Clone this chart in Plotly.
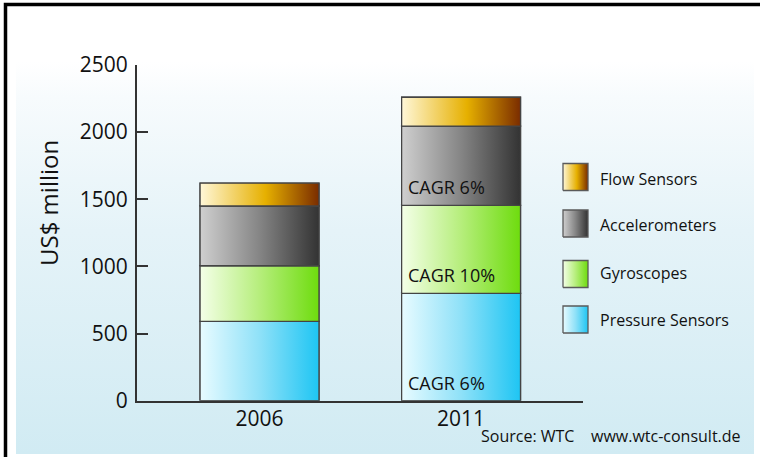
import plotly.graph_objects as go

# ---------------- data ----------------
years = ["2006", "2011"]
series = ["Pressure Sensors", "Gyroscopes", "Accelerometers", "Flow Sensors"]
pressure = [590, 800]
gyroscopes = [415, 655]
accelerometers = [445, 590]
flow = [170, 215]
cagr_labels = ["CAGR 6%", "CAGR 10%", "CAGR 6%", ""]   # label shown in the 2011 segment
y_ticks = [0, 500, 1000, 1500, 2000, 2500]

values = [pressure, gyroscopes, accelerometers, flow]

# ---------------- styles ----------------
FONT = "Open Sans"
TXT = "#111111"
EDGE = "#444444"
scales = {
    "Pressure Sensors": [[0, "#e8fbff"], [0.5, "#8fe1f8"], [1, "#1ec5f3"]],
    "Gyroscopes": [[0, "#f4ffe8"], [0.5, "#b6ee7c"], [1, "#6edc0e"]],
    "Accelerometers": [[0, "#cfcfcf"], [0.5, "#858585"], [1, "#333333"]],
    "Flow Sensors": [[0, "#fff7d8"], [0.55, "#e6b000"], [1, "#7a2c00"]],
}
mids = {k: v[1][1] for k, v in scales.items()}
bg_scale = [[0, "#d1ebf3"], [0.5, "#e5f3f8"], [0.8, "#f7fbfd"], [0.88, "#ffffff"], [1, "#ffffff"]]

W = 0.59
xpos = list(range(len(years)))

fig = go.Figure()

# background gradient (full-figure helper axes in pixel units, y from bottom)
fig.add_trace(go.Scatter(
    x=[16, 754, 754, 16, 16], y=[3, 3, 449, 449, 3], fill="toself", mode="none",
    fillgradient=dict(type="vertical", colorscale=bg_scale),
    xaxis="x", yaxis="y", hoverinfo="skip", showlegend=False))

# legend swatches (custom legend, top to bottom)
legend_order = ["Flow Sensors", "Accelerometers", "Gyroscopes", "Pressure Sensors"]
legend_cy = [177, 223.5, 274, 319.5]
legend_ty = [179, 225, 273, 320]
for name, cy in zip(legend_order, legend_cy):
    yb, yt = 457 - (cy + 13.5), 457 - (cy - 13.5)
    fig.add_trace(go.Scatter(
        x=[563, 588, 588, 563, 563], y=[yb, yb, yt, yt, yb], fill="toself", mode="lines",
        line=dict(color="#5a5a5a", width=1.3),
        fillgradient=dict(type="horizontal", colorscale=scales[name]),
        xaxis="x", yaxis="y", hoverinfo="skip", showlegend=False))

# stacked bars
base = [0] * len(years)
annotations = []
for name, vals, lab in zip(series, values, cagr_labels):
    fig.add_trace(go.Bar(
        x=xpos, y=vals, base=base, width=W, name=name,
        marker=dict(color=mids[name], line=dict(color=EDGE, width=1.3)),
        xaxis="x2", yaxis="y2", showlegend=False))
    for i in xpos:
        x0, x1 = i - W / 2, i + W / 2
        y0, y1 = base[i], base[i] + vals[i]
        fig.add_trace(go.Scatter(
            x=[x0, x1, x1, x0, x0], y=[y0, y0, y1, y1, y0], fill="toself", mode="lines",
            line=dict(color=EDGE, width=1.3),
            fillgradient=dict(type="horizontal", colorscale=scales[name]),
            xaxis="x2", yaxis="y2", hoverinfo="skip", showlegend=False))
    if lab:
        annotations.append(dict(
            x=xpos[1] - W / 2, y=base[1], xref="x2", yref="y2", text=lab,
            xanchor="left", yanchor="bottom", xshift=4, yshift=4, showarrow=False,
            font=dict(family=FONT, size=18, color=TXT)))
    base = [b + v for b, v in zip(base, vals)]

# y-axis title
annotations.append(dict(
    x=49 / 760, y=(457 - 203) / 457, xref="paper", yref="paper", text="US$ million",
    textangle=-90, showarrow=False, xanchor="center", yanchor="middle",
    font=dict(family=FONT, size=24, color=TXT)))

# legend texts
for name, ty in zip(legend_order, legend_ty):
    annotations.append(dict(
        x=598 / 760, y=(457 - ty) / 457, xref="paper", yref="paper", text=name,
        xanchor="left", yanchor="middle", showarrow=False,
        font=dict(family=FONT, size=16, color=TXT)))

# source
annotations.append(dict(
    x=479 / 760, y=(457 - 436) / 457, xref="paper", yref="paper", text="Source: WTC",
    xanchor="left", yanchor="middle", showarrow=False, font=dict(family=FONT, size=16, color=TXT)))
annotations.append(dict(
    x=589 / 760, y=(457 - 436) / 457, xref="paper", yref="paper", text="www.wtc-consult.de",
    xanchor="left", yanchor="middle", showarrow=False, font=dict(family=FONT, size=16, color=TXT)))

fig.update_layout(
    template="none",
    width=760, height=457, autosize=False,
    margin=dict(l=0, r=0, t=0, b=0, pad=0, autoexpand=False),
    paper_bgcolor="white", plot_bgcolor="rgba(0,0,0,0)",
    barmode="overlay", showlegend=False,
    font=dict(family=FONT, color=TXT),
    xaxis=dict(domain=[0, 1], range=[0, 760], visible=False, fixedrange=True, automargin=False),
    yaxis=dict(domain=[0, 1], range=[0, 457], visible=False, fixedrange=True, automargin=False),
    xaxis2=dict(domain=[137 / 760, 583 / 760], range=[-0.608, 1.605], anchor="y2",
                tickvals=xpos, ticktext=years, ticks="", showgrid=False, zeroline=False,
                showline=True, linecolor="#333333", linewidth=2, automargin=False,
                ticklabelstandoff=-2,
                tickfont=dict(family=FONT, size=21, color=TXT)),
    yaxis2=dict(domain=[(457 - 400.7) / 457, (457 - 65) / 457], range=[0, 2500], anchor="x2",
                tickvals=y_ticks, ticks="inside", ticklen=11, tickwidth=2, tickcolor="#333333",
                showgrid=False, zeroline=False, showline=True, linecolor="#333333", linewidth=2,
                automargin=False,
                ticklabelstandoff=3, tickfont=dict(family=FONT, size=21, color=TXT)),
    annotations=annotations,
    shapes=[dict(type="path", xref="x", yref="y", path="M 5.5,0 L 5.5,452.5 L 760,452.5",
                 line=dict(color="black", width=3.5), layer="above")],
)

fig.write_html("out.html")
